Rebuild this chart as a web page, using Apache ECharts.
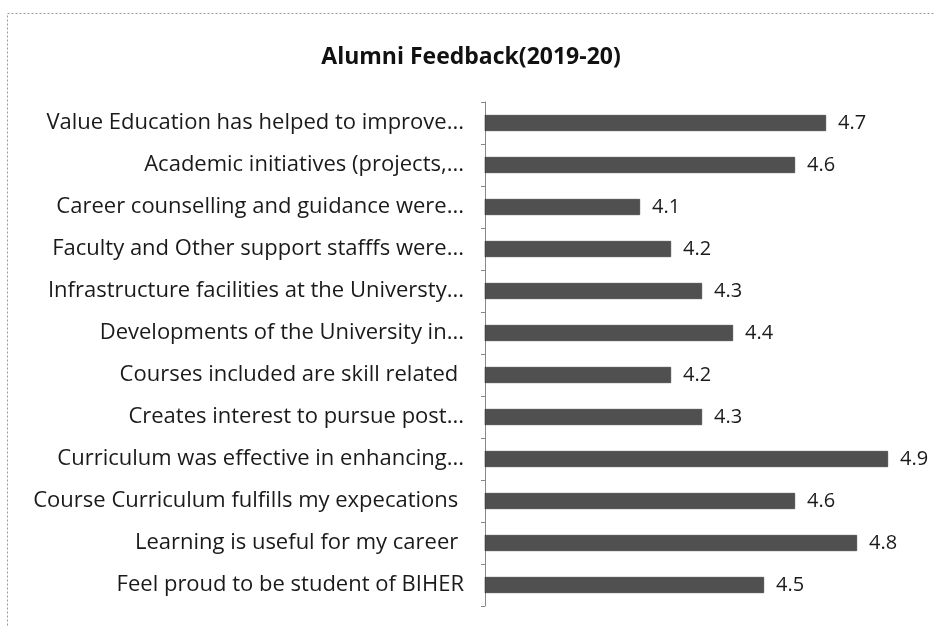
<!DOCTYPE html>
<html><head><meta charset="utf-8">
<script src="https://cdn.jsdelivr.net/npm/echarts@6/dist/echarts.min.js"></script>
<style>html,body{margin:0;padding:0;background:#fff}#c{width:935px;height:627px}</style>
</head><body><div id="c"></div>
<script>
const categories = [
  "Value Education has helped to improve...",
  "Academic initiatives (projects,...",
  "Career counselling and guidance were...",
  "Faculty and Other support stafffs were...",
  "Infrastructure facilities at the Universty...",
  "Developments of the University in...",
  "Courses included are skill related ",
  "Creates interest to pursue post...",
  "Curriculum was effective in enhancing...",
  "Course Curriculum fulfills my expecations ",
  "Learning is useful for my career ",
  "Feel proud to be student of BIHER"
];
const values = [4.7, 4.6, 4.1, 4.2, 4.3, 4.4, 4.2, 4.3, 4.9, 4.6, 4.8, 4.5];
const titleText = "Alumni Feedback(2019-20)";

const chart = echarts.init(document.getElementById('c'));
const font = "'Open Sans', sans-serif";
chart.setOption({
  animation: false,
  title: {text: titleText, left: 466, top: 41, textAlign: 'center',
    textStyle: {fontFamily: font, fontSize: 23, fontWeight: 'bold', color: '#111'}},
  graphic: [{type: 'rect', shape: {x: 7.5, y: 13.5, width: 940, height: 640},
    style: {fill: 'none', stroke: '#999', lineWidth: 1, lineDash: [2, 2]}}],
  grid: {left: 485, right: 16, top: 102, bottom: 21, containLabel: false},
  xAxis: {type: 'value', min: 3.6, max: 5.0, show: false},
  yAxis: {type: 'category', data: categories, inverse: true,
    axisLine: {lineStyle: {color: '#888', width: 1}},
    axisTick: {show: true, length: 4, lineStyle: {color: '#888'}},
    axisLabel: {fontFamily: font, fontSize: 22, color: '#1a1a1a', margin: 21}},
  series: [{type: 'bar', data: values, barWidth: 16,
    itemStyle: {color: '#505050', borderColor: '#222', borderWidth: 0.5},
    label: {show: true, position: 'right', distance: 12, fontFamily: font, fontSize: 20, color: '#1a1a1a'}}]
});
</script></body></html>
